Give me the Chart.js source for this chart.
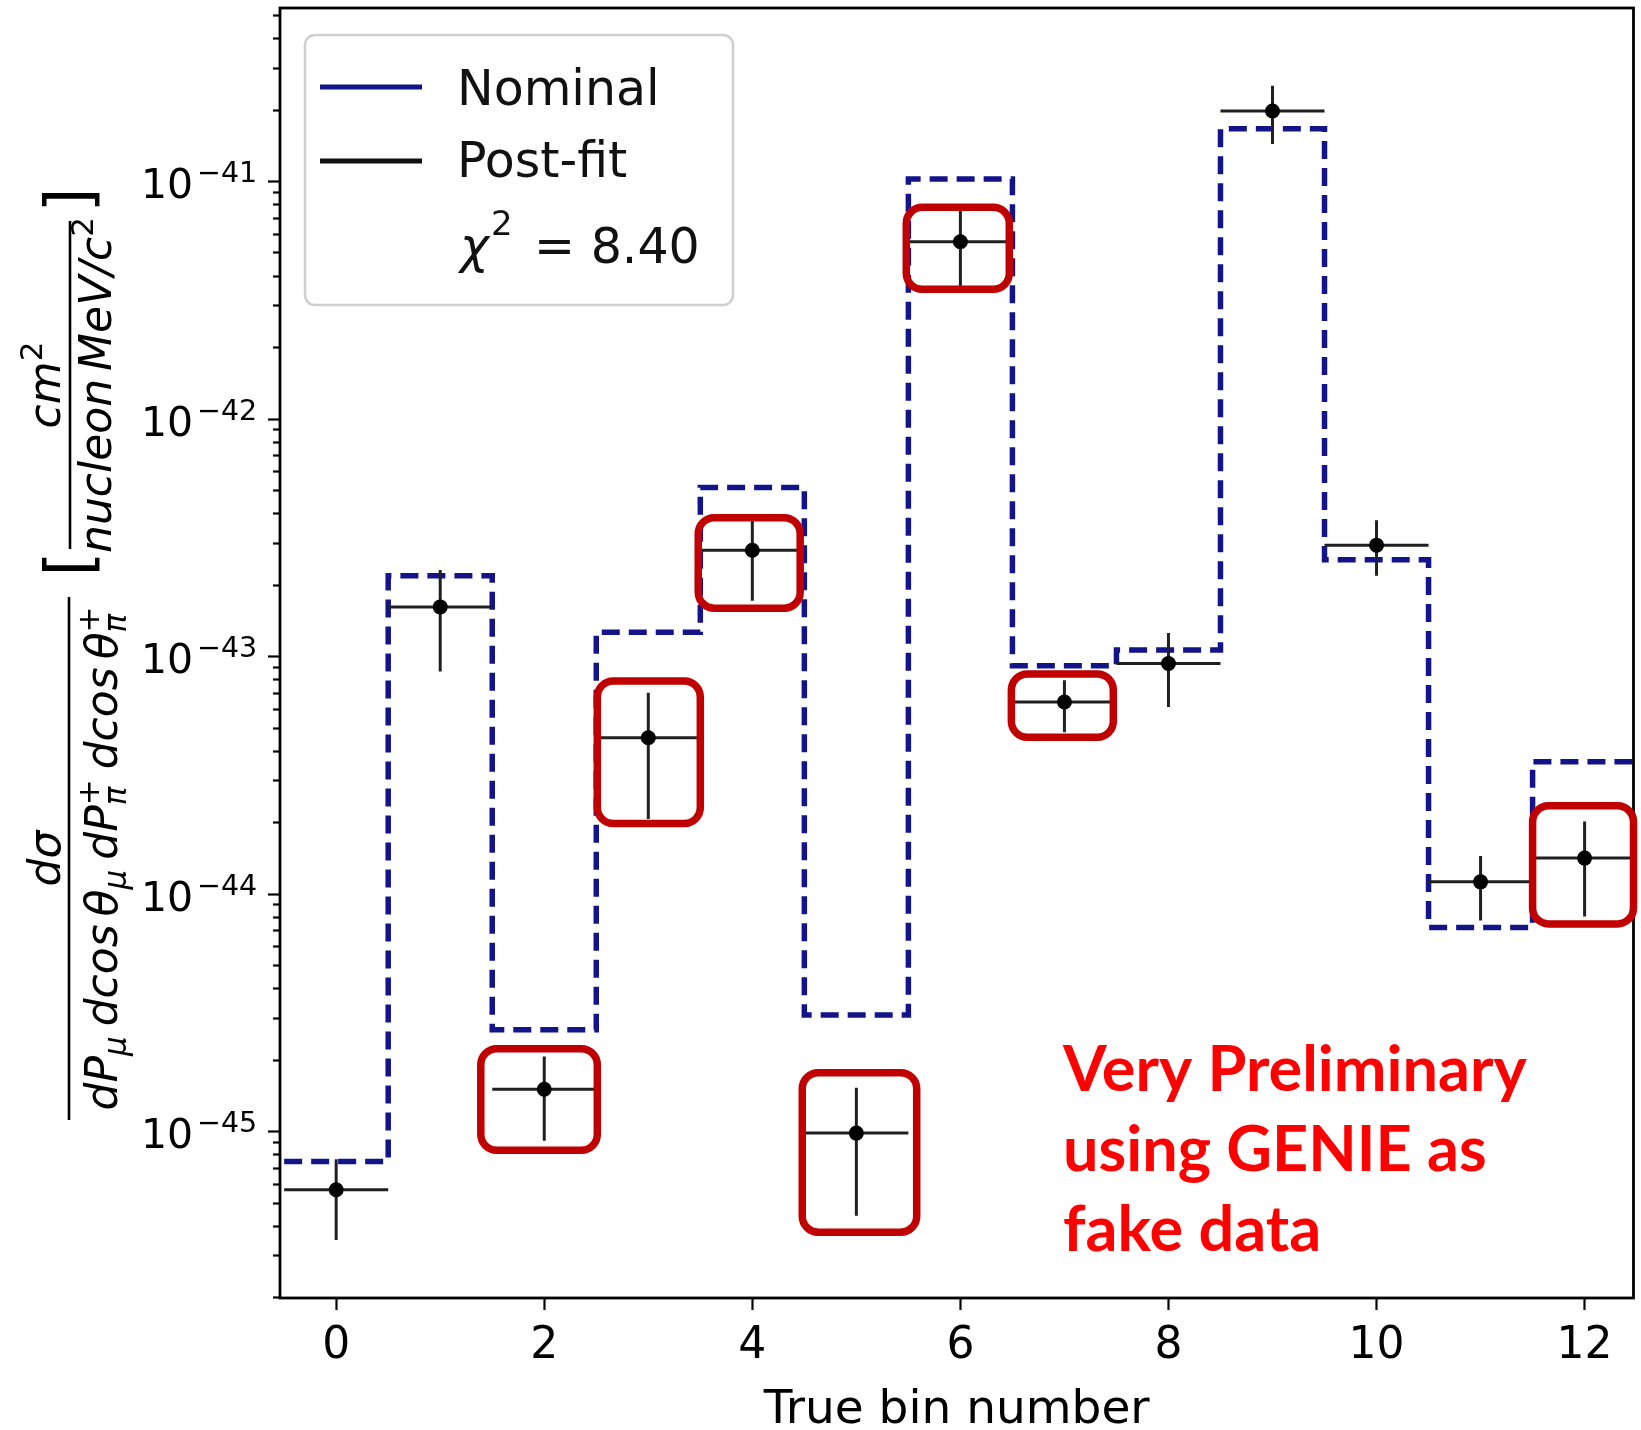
<!DOCTYPE html>
<html>
<head>
<meta charset="utf-8">
<script src="https://cdn.jsdelivr.net/npm/chart.js@4.4.1/dist/chart.umd.min.js"></script>
<style>
  html, body { margin: 0; padding: 0; background: #ffffff; }
  canvas { display: block; }
</style>
</head>
<body>
<canvas id="xsec" width="1641" height="1430"></canvas>
<script>
// ---- data -------------------------------------------------------------
const binNumbers = [0, 1, 2, 3, 4, 5, 6, 7, 8, 9, 10, 11, 12];
const binHalfWidth = 0.5;

// nominal prediction (dashed step histogram), cm^2 / (nucleon MeV/c^2)
const nominal = [7.45e-46, 2.18e-43, 2.67e-45, 1.26e-43, 5.12e-43, 3.08e-45,
                 1.02e-41, 9.1e-44, 1.06e-43, 1.66e-41, 2.54e-43, 7.2e-45, 3.59e-44];

// post-fit central values and the ends of their error bars
const postFit      = [5.66e-46, 1.61e-43, 1.50e-45, 4.53e-44, 2.79e-43, 9.8e-46,
                      5.55e-42, 6.4e-44, 9.3e-44, 1.97e-41, 2.93e-43, 1.12e-44, 1.41e-44];
const postFitUpper = [7.6e-46, 2.30e-43, 2.06e-45, 7.0e-44, 3.78e-43, 1.52e-45,
                      7.6e-42, 7.9e-44, 1.25e-43, 2.52e-41, 3.73e-43, 1.44e-44, 2.01e-44];
const postFitLower = [3.48e-46, 8.6e-44, 9.1e-46, 2.06e-44, 1.71e-43, 4.4e-46,
                      3.59e-42, 4.77e-44, 6.1e-44, 1.43e-41, 2.18e-43, 7.7e-45, 8.0e-45];

// axes
const xLimits = [-0.54, 12.47];
const xTickValues = [0, 2, 4, 6, 8, 10, 12];
const yLimits = [Math.pow(10, -45.703), Math.pow(10, -40.2716)];
const yDecadeExponents = [-46, -45, -44, -43, -42, -41, -40];
const yLabelExponents = [-45, -44, -43, -42, -41];
const xTitle = 'True bin number';

// legend and notes
const legendNames = ['Nominal', 'Post-fit'];
const chiSquareValue = '8.40';
const noteLines = ['Very Preliminary', 'using GENIE as', 'fake data'];

// highlighted bins: box extents in data units
const highlightBoxes = [
  { bin: 2,  x0: 1.39,  x1: 2.51,  top: 2.22e-45, bottom: 8.3e-46 },
  { bin: 3,  x0: 2.51,  x1: 3.50,  top: 7.85e-44, bottom: 1.97e-44 },
  { bin: 4,  x0: 3.48,  x1: 4.46,  top: 3.82e-43, bottom: 1.59e-43 },
  { bin: 5,  x0: 4.48,  x1: 5.58,  top: 1.76e-45, bottom: 3.75e-46 },
  { bin: 6,  x0: 5.48,  x1: 6.47,  top: 7.75e-42, bottom: 3.50e-42 },
  { bin: 7,  x0: 6.49,  x1: 7.47,  top: 8.40e-44, bottom: 4.55e-44 },
  { bin: 12, x0: 11.50, x1: 12.47, top: 2.34e-44, bottom: 7.45e-45 }
];

// ---- styles -----------------------------------------------------------
const NAVY = '#13138a';
const INK = '#000000';
const ERR = '#202020';
const BOX_RED = '#c00000';
const NOTE_RED = '#ff0000';
const SANS = '"DejaVu Sans", "Liberation Sans", sans-serif';

// step outline: one point per left bin edge plus the closing right edge
const stepPoints = binNumbers.map((b, i) => ({ x: b - binHalfWidth, y: nominal[i] }));
stepPoints.push({ x: binNumbers[binNumbers.length - 1] + binHalfWidth, y: nominal[nominal.length - 1] });

const postFitPoints = binNumbers.map((b, i) => ({ x: b, y: postFit[i] }));

// draws a sequence of text runs along a baseline; "stack" runs share their slot with the next run
function layoutRuns(ctx, runs, startU, baseV, draw) {
  let u = startU, pending = 0;
  for (const r of runs) {
    if (r.gap !== undefined) { u += r.gap; continue; }
    ctx.font = r.f;
    const w = ctx.measureText(r.t).width;
    if (draw) ctx.fillText(r.t, u, baseV + (r.dy || 0));
    if (r.stack) { pending = Math.max(pending, w); }
    else { u += Math.max(w, pending); pending = 0; }
  }
  return u - startU;
}
function centeredRuns(ctx, runs, centerU, baseV) {
  const w = layoutRuns(ctx, runs, 0, baseV, false);
  layoutRuns(ctx, runs, centerU - w / 2, baseV, true);
}

function drawYTitle(ctx) {
  const I = 'italic 44px ' + SANS;
  const S = 'italic 31px ' + SANS;
  const R = '31px ' + SANS;
  ctx.save();
  ctx.rotate(-Math.PI / 2);           // text runs upward; u = -screenY, v = screenX
  ctx.fillStyle = INK;
  ctx.strokeStyle = INK;
  ctx.textAlign = 'left';
  ctx.textBaseline = 'alphabetic';

  // d sigma / (dP_mu dcos theta_mu dP_pi dcos theta_pi)
  const f1 = { lo: 1120, hi: 597, bar: 69 };
  const c1 = -(f1.lo + f1.hi) / 2;
  ctx.lineWidth = 2.6;
  ctx.beginPath(); ctx.moveTo(-f1.lo, f1.bar); ctx.lineTo(-f1.hi, f1.bar); ctx.stroke();
  centeredRuns(ctx, [{ t: 'dσ', f: I }], c1, 60);
  centeredRuns(ctx, [
    { t: 'dP', f: I }, { t: 'μ', f: S, dy: 9 }, { gap: 10 },
    { t: 'dcos', f: I }, { gap: 8 }, { t: 'θ', f: I }, { t: 'μ', f: S, dy: 9 }, { gap: 10 },
    { t: 'dP', f: I }, { t: 'π', f: S, dy: 9, stack: true }, { t: '+', f: R, dy: -18 }, { gap: 10 },
    { t: 'dcos', f: I }, { gap: 8 }, { t: 'θ', f: I }, { t: 'π', f: S, dy: 9, stack: true }, { t: '+', f: R, dy: -18 }
  ], c1, 117);

  // [ cm^2 / (nucleon MeV/c^2) ]
  ctx.font = '64px ' + SANS;
  ctx.textAlign = 'center';
  ctx.fillText('[', -564, 91);
  ctx.fillText(']', -200, 91);
  ctx.textAlign = 'left';

  const f2 = { lo: 549, hi: 221, bar: 70 };
  const c2 = -(f2.lo + f2.hi) / 2;
  ctx.beginPath(); ctx.moveTo(-f2.lo, f2.bar); ctx.lineTo(-f2.hi, f2.bar); ctx.stroke();
  centeredRuns(ctx, [{ t: 'cm', f: I }, { t: '2', f: R, dy: -18 }], c2, 60);
  centeredRuns(ctx, [
    { t: 'nucleon', f: I }, { gap: 8 }, { t: 'MeV/c', f: I }, { t: '2', f: R, dy: -18 }
  ], c2, 111);
  ctx.restore();
}

const decorations = {
  id: 'decorations',
  afterDatasetDraw(chart, args) {
    // error bars go between the step outline and the markers
    if (args.index !== 1) return;
    const { ctx, chartArea: ca, scales: { x, y } } = chart;
    ctx.save();
    ctx.beginPath();
    ctx.rect(ca.left, ca.top, ca.right - ca.left, ca.bottom - ca.top);
    ctx.clip();
    ctx.strokeStyle = ERR;
    ctx.lineWidth = 3;
    binNumbers.forEach((b, i) => {
      const px = x.getPixelForValue(b);
      const py = y.getPixelForValue(postFit[i]);
      ctx.beginPath();
      ctx.moveTo(x.getPixelForValue(b - binHalfWidth), py);
      ctx.lineTo(x.getPixelForValue(b + binHalfWidth), py);
      ctx.moveTo(px, y.getPixelForValue(postFitUpper[i]));
      ctx.lineTo(px, y.getPixelForValue(postFitLower[i]));
      ctx.stroke();
    });
    ctx.restore();
  },
  afterDraw(chart) {
    const { ctx, chartArea: ca, scales: { x, y } } = chart;
    ctx.save();

    // frame
    ctx.strokeStyle = INK;
    ctx.lineWidth = 2.8;
    ctx.strokeRect(ca.left, ca.top, ca.right - ca.left, ca.bottom - ca.top);

    // y tick marks (long at decades, short between)
    ctx.lineWidth = 2.2;
    y.ticks.forEach(t => {
      const py = Math.round(y.getPixelForValue(t.value)) + 0.5;
      const len = t.major ? 12 : 7;
      ctx.beginPath();
      ctx.moveTo(ca.left - len, py);
      ctx.lineTo(ca.left, py);
      ctx.stroke();
    });

    // y tick labels 10^n
    ctx.fillStyle = INK;
    ctx.textAlign = 'left';
    ctx.textBaseline = 'alphabetic';
    yLabelExponents.forEach(e => {
      const py = y.getPixelForValue(Math.pow(10, e));
      ctx.font = '41px ' + SANS;
      ctx.fillText('10', ca.left - 139, py + 17);
      ctx.font = '28.5px ' + SANS;
      ctx.fillText('−' + Math.abs(e), ca.left - 83, py + 1);
    });

    // axis titles
    ctx.font = '47px ' + SANS;
    ctx.textAlign = 'center';
    ctx.fillText(xTitle, (ca.left + ca.right) / 2, 1423);
    drawYTitle(ctx);

    // legend
    const lx = ca.left + 25, ly = ca.top + 27;
    ctx.beginPath();
    ctx.roundRect(lx, ly, 428, 270, 10);
    ctx.fillStyle = 'rgba(255,255,255,0.85)';
    ctx.fill();
    ctx.strokeStyle = '#cfcfcf';
    ctx.lineWidth = 2.5;
    ctx.stroke();

    ctx.lineWidth = 5;
    ctx.strokeStyle = NAVY;
    ctx.beginPath(); ctx.moveTo(lx + 15, ly + 52); ctx.lineTo(lx + 117, ly + 52); ctx.stroke();
    ctx.strokeStyle = '#111111';
    ctx.beginPath(); ctx.moveTo(lx + 15, ly + 126); ctx.lineTo(lx + 117, ly + 126); ctx.stroke();

    ctx.fillStyle = '#111111';
    ctx.textAlign = 'left';
    ctx.font = '49px ' + SANS;
    ctx.fillText(legendNames[0], lx + 152, ly + 70);
    ctx.fillText(legendNames[1], lx + 152, ly + 142);
    ctx.font = 'italic 49px ' + SANS;
    ctx.fillText('χ', lx + 155, ly + 228);
    ctx.font = '34px ' + SANS;
    ctx.fillText('2', lx + 186, ly + 200);
    ctx.font = '49px ' + SANS;
    ctx.fillText('= ' + chiSquareValue, lx + 229, ly + 228);

    // highlighted bins
    ctx.strokeStyle = BOX_RED;
    ctx.lineWidth = 7.5;
    highlightBoxes.forEach(b => {
      const l = x.getPixelForValue(b.x0), r = x.getPixelForValue(b.x1);
      const t = y.getPixelForValue(b.top), bo = y.getPixelForValue(b.bottom);
      ctx.beginPath();
      ctx.roundRect(l, t, r - l, bo - t, 16);
      ctx.stroke();
    });

    // note
    ctx.fillStyle = NOTE_RED;
    ctx.font = 'bold 63px Lato, "Open Sans", sans-serif';
    noteLines.forEach((line, i) => {
      ctx.fillText(line, 1063, 1091 + i * 80);
    });

    ctx.restore();
  }
};

new Chart(document.getElementById('xsec'), {
  type: 'line',
  data: {
    datasets: [
      {
        label: legendNames[1],
        data: postFitPoints,
        showLine: false,
        pointRadius: 7.5,
        pointBackgroundColor: '#000000',
        pointBorderWidth: 0,
        order: 0
      },
      {
        label: legendNames[0],
        data: stepPoints,
        stepped: 'before',
        borderColor: NAVY,
        borderWidth: 5.5,
        borderDash: [18, 9],
        pointRadius: 0,
        fill: false,
        clip: 0,
        order: 1
      }
    ]
  },
  options: {
    responsive: false,
    animation: false,
    devicePixelRatio: 1,
    events: [],
    layout: { padding: { top: 8, right: 4, left: 0, bottom: 0 } },
    plugins: { legend: { display: false }, tooltip: { enabled: false } },
    scales: {
      x: {
        type: 'linear',
        min: xLimits[0],
        max: xLimits[1],
        afterBuildTicks: s => { s.ticks = xTickValues.map(v => ({ value: v })); },
        afterFit: s => { s.height = 132; },
        ticks: { font: { family: 'DejaVu Sans', size: 44 }, color: INK, padding: 10, maxRotation: 0, autoSkip: false },
        grid: { display: true, drawOnChartArea: false, drawTicks: true, tickLength: 12, tickWidth: 2.2, tickColor: INK },
        border: { display: false }
      },
      y: {
        type: 'logarithmic',
        min: yLimits[0],
        max: yLimits[1],
        afterBuildTicks: s => {
          const ticks = [];
          yDecadeExponents.forEach(e => {
            for (let m = 1; m <= 9; m++) {
              const v = m * Math.pow(10, e);
              if (v >= s.min && v <= s.max) ticks.push({ value: v, major: m === 1 });
            }
          });
          s.ticks = ticks;
        },
        afterFit: s => { s.width = 280; },
        ticks: { display: false },
        grid: { display: false },
        border: { display: false }
      }
    }
  },
  plugins: [decorations]
});
</script>
</body>
</html>
